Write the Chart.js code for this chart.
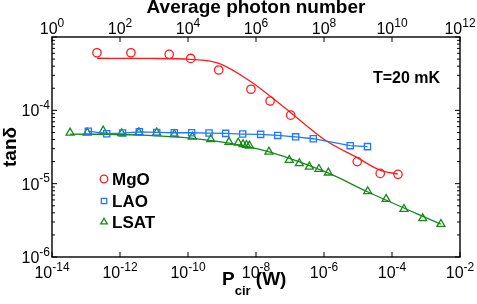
<!DOCTYPE html>
<html>
<head>
<meta charset="utf-8">
<script src="https://cdn.jsdelivr.net/npm/chart.js@4.4.0/dist/chart.umd.min.js"></script>
<style>
  html, body { margin: 0; padding: 0; background: #fff; }
</style>
</head>
<body>
<canvas id="tanChart" width="477" height="304"></canvas>
<script>
// valores (P_cir em W, tan delta)
const mgoPower = [2.1e-13, 2.1e-12, 2.8e-11, 1.2e-10, 8.0e-10, 7.1e-9, 2.6e-8, 1.05e-7, 9.5e-6, 4.5e-5, 1.5e-4];
const mgoTan = [6.1e-4, 6.1e-4, 5.8e-4, 5.1e-4, 3.55e-4, 1.94e-4, 1.34e-4, 8.6e-5, 2.0e-5, 1.38e-5, 1.34e-5];

const mgoFitPower = [2.1e-13, 7.6e-12, 1.2e-10, 8.1e-10, 7.1e-9, 1.05e-7, 1.07e-6, 1.0e-5, 4.4e-5, 1.5e-4];
const mgoFitTan = [5.13e-4, 5.1e-4, 4.96e-4, 4.38e-4, 2.46e-4, 9.3e-5, 3.94e-5, 2.23e-5, 1.53e-5, 1.35e-5];

const laoPower = [1.17e-13, 4.06e-13, 1.19e-12, 3.7e-12, 1.2e-11, 3.95e-11, 1.28e-10, 4.15e-10, 1.28e-9, 4.06e-9, 1.37e-8, 4.35e-8, 1.47e-7, 4.84e-7, 5.9e-6, 1.9e-5];
const laoTan = [5.2e-5, 4.8e-5, 4.9e-5, 5.1e-5, 5.0e-5, 4.95e-5, 4.95e-5, 4.9e-5, 4.85e-5, 4.75e-5, 4.7e-5, 4.55e-5, 4.35e-5, 4.1e-5, 3.3e-5, 3.2e-5];

const lsatPower = [3.4e-14, 1.09e-13, 3.2e-13, 1.12e-12, 3.6e-12, 1.2e-11, 3.95e-11, 1.34e-10, 4.66e-10, 1.61e-9, 3.0e-9, 4.15e-9, 5.25e-9, 6.4e-9, 2.4e-8, 9.5e-8, 1.88e-7, 3.7e-7, 7.1e-7, 1.34e-6, 1.93e-5, 6.7e-5, 2.25e-4, 8.0e-4, 2.75e-3];
const lsatTan = [4.95e-5, 4.95e-5, 5.27e-5, 4.86e-5, 5.0e-5, 4.95e-5, 4.7e-5, 4.36e-5, 4.02e-5, 3.7e-5, 3.61e-5, 3.44e-5, 3.36e-5, 3.29e-5, 2.72e-5, 2.1e-5, 1.89e-5, 1.7e-5, 1.58e-5, 1.41e-5, 7.85e-6, 6.17e-6, 4.5e-6, 3.36e-6, 2.81e-6];

const lsatFitPower = [3.4e-14, 4.7e-12, 1.4e-10, 3.4e-9, 2.6e-8, 1.31e-6, 1.97e-5, 2.75e-3];
const lsatFitTan = [4.75e-5, 4.6e-5, 4.15e-5, 3.36e-5, 2.7e-5, 1.4e-5, 7.7e-6, 2.8e-6];

// rótulos dos eixos (expoentes de 10)
const powerExps = [-14, -12, -10, -8, -6, -4, -2];
const photonExps = [0, 2, 4, 6, 8, 10, 12];
const tanExps = [-6, -5, -4];
const seriesNames = ['MgO', 'LAO', 'LSAT'];
const tempLabel = 'T=20 mK';

const FONT = '"Liberation Sans", Arial, sans-serif';
const RED = '#ff1a1a';
const BLUE = '#1f78ff';
const GREEN = '#168a16';

function pts(xs, ys) {
  return xs.map((x, i) => ({ x: x, y: ys[i] }));
}

// desenha "10" com expoente sobrescrito
function drawPow(ctx, exp, x, y, align) {
  const baseFont = '16px ' + FONT;
  const supFont = '12px ' + FONT;
  const txt = exp < 0 ? '-' + Math.abs(exp) : String(exp);
  ctx.font = baseFont;
  const wb = ctx.measureText('10').width;
  ctx.font = supFont;
  const we = ctx.measureText(txt).width;
  let x0 = x;
  if (align === 'center') x0 = x - (wb + we) / 2;
  if (align === 'right') x0 = x - wb - we;
  ctx.textAlign = 'left';
  ctx.textBaseline = 'alphabetic';
  ctx.font = baseFont;
  ctx.fillText('10', x0, y);
  ctx.font = supFont;
  ctx.fillText(txt, x0 + wb, y - 7.5);
}

const axisDecor = {
  id: 'axisDecor',
  afterDraw(chart) {
    const ctx = chart.ctx;
    const a = chart.chartArea;
    const sx = chart.scales.x;
    const st = chart.scales.x2;
    const sy = chart.scales.y;
    ctx.save();
    ctx.strokeStyle = '#000';
    ctx.fillStyle = '#000';
    ctx.lineWidth = 1.4;
    ctx.strokeRect(a.left, a.top, a.right - a.left, a.bottom - a.top);

    // marcas para dentro
    ctx.lineWidth = 1;
    ctx.beginPath();
    powerExps.forEach(e => {
      const x = sx.getPixelForValue(Math.pow(10, e));
      ctx.moveTo(x, a.bottom);
      ctx.lineTo(x, a.bottom - 5);
    });
    photonExps.forEach(e => {
      const x = st.getPixelForValue(Math.pow(10, e));
      ctx.moveTo(x, a.top);
      ctx.lineTo(x, a.top + 5);
    });
    for (let e = -6; e <= -3; e++) {
      for (let m = 1; m <= 9; m++) {
        if (e === -3 && m > 1) break;
        const y = sy.getPixelForValue(m * Math.pow(10, e));
        const len = m === 1 ? 5 : 3;
        ctx.moveTo(a.left, y);
        ctx.lineTo(a.left + len, y);
        ctx.moveTo(a.right, y);
        ctx.lineTo(a.right - len, y);
      }
    }
    ctx.stroke();

    // rótulos
    powerExps.forEach(e => drawPow(ctx, e, sx.getPixelForValue(Math.pow(10, e)), a.bottom + 21, 'center'));
    photonExps.forEach(e => drawPow(ctx, e, st.getPixelForValue(Math.pow(10, e)), a.top - 3, 'center'));
    tanExps.forEach(e => drawPow(ctx, e, a.left - 2, sy.getPixelForValue(Math.pow(10, e)) + 6, 'right'));

    // título do eixo x com subscrito
    ctx.textAlign = 'left';
    ctx.textBaseline = 'alphabetic';
    ctx.font = 'bold 19px ' + FONT;
    const wP = ctx.measureText('P').width;
    ctx.font = 'bold 13px ' + FONT;
    const wSub = ctx.measureText('cir').width;
    let tx = 222;
    ctx.font = 'bold 19px ' + FONT;
    ctx.fillText('P', tx, a.bottom + 28);
    ctx.font = 'bold 13px ' + FONT;
    ctx.fillText('cir', tx + wP, a.bottom + 38);
    ctx.font = 'bold 19px ' + FONT;
    ctx.fillText(' (W)', tx + wP + wSub, a.bottom + 28);

    // anotação de temperatura
    ctx.font = 'bold 16px ' + FONT;
    ctx.fillText(tempLabel, 373, 83);

    // legenda dentro do gráfico
    const legendY = [179, 201, 222];
    chart.data.datasets.slice(0, 3).forEach((ds, i) => {
      ctx.strokeStyle = ds.borderColor;
      ctx.fillStyle = 'rgba(0,0,0,0)';
      ctx.lineWidth = 1.3;
      Chart.helpers.drawPoint(ctx, { pointStyle: ds.pointStyle, radius: 3.8, rotation: 0, borderWidth: 1.3 }, 104, legendY[i]);
      ctx.fillStyle = '#000';
      ctx.font = 'bold 17px ' + FONT;
      ctx.textBaseline = 'middle';
      ctx.fillText(seriesNames[i], 112, legendY[i] + 1);
    });
    ctx.restore();
  }
};

const ctx = document.getElementById('tanChart').getContext('2d');
const chart = new Chart(ctx, {
  type: 'scatter',
  data: {
    datasets: [
      {
        label: seriesNames[0],
        data: pts(mgoPower, mgoTan),
        pointStyle: 'circle',
        pointRadius: 4.2,
        borderColor: RED,
        backgroundColor: 'rgba(0,0,0,0)',
        borderWidth: 1.3,
        showLine: false
      },
      {
        label: seriesNames[1],
        data: pts(laoPower, laoTan),
        pointStyle: 'rect',
        pointRadius: 4.4,
        borderColor: BLUE,
        backgroundColor: 'rgba(0,0,0,0)',
        borderWidth: 1.3,
        showLine: true
      },
      {
        label: seriesNames[2],
        data: pts(lsatPower, lsatTan),
        pointStyle: 'triangle',
        pointRadius: 4.6,
        borderColor: GREEN,
        backgroundColor: 'rgba(0,0,0,0)',
        borderWidth: 1.3,
        showLine: false
      },
      {
        label: 'MgO fit',
        data: pts(mgoFitPower, mgoFitTan),
        pointRadius: 0,
        borderColor: RED,
        borderWidth: 1.3,
        showLine: true,
        cubicInterpolationMode: 'monotone'
      },
      {
        label: 'LSAT fit',
        data: pts(lsatFitPower, lsatFitTan),
        pointRadius: 0,
        borderColor: GREEN,
        borderWidth: 1.3,
        showLine: true,
        cubicInterpolationMode: 'monotone'
      }
    ]
  },
  options: {
    responsive: false,
    animation: false,
    events: [],
    layout: { padding: 0 },
    plugins: {
      legend: { display: false },
      tooltip: { enabled: false }
    },
    scales: {
      x: {
        type: 'logarithmic',
        position: 'bottom',
        min: 1e-14,
        max: 1e-2,
        grid: { display: false },
        border: { display: false },
        ticks: { display: false },
        afterFit: s => { s.height = 47; }
      },
      x2: {
        type: 'logarithmic',
        position: 'top',
        min: 1,
        max: 1e12,
        grid: { display: false },
        border: { display: false },
        ticks: { display: false },
        title: {
          display: true,
          text: 'Average photon number',
          color: '#000',
          font: { family: FONT, size: 19, weight: 'bold', lineHeight: 0.8 },
          padding: { top: 0, bottom: 0 }
        },
        afterFit: s => { s.height = 37; }
      },
      y: {
        type: 'logarithmic',
        position: 'left',
        min: 1e-6,
        max: 1e-3,
        grid: { display: false },
        border: { display: false },
        ticks: { display: false },
        title: {
          display: true,
          text: 'tanδ',
          color: '#000',
          font: { family: FONT, size: 19, weight: 'bold', lineHeight: 1 },
          padding: { top: 1, bottom: 0 }
        },
        afterFit: s => { s.width = 52; }
      },
      y2: {
        type: 'logarithmic',
        position: 'right',
        min: 1e-6,
        max: 1e-3,
        grid: { display: false },
        border: { display: false },
        ticks: { display: false },
        afterFit: s => { s.width = 17; }
      }
    }
  },
  plugins: [axisDecor]
});
</script>
</body>
</html>
